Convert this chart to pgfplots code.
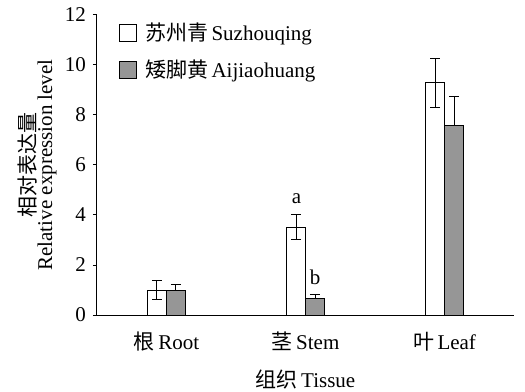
\documentclass[border=0pt]{standalone}
\usepackage{fontspec}
\setmainfont{Liberation Serif}
\newfontfamily\cjk{Noto Sans CJK SC}
\usepackage{pgfplots}
\pgfplotsset{compat=1.18}
\definecolor{bargray}{RGB}{150,150,150}
\begin{document}
\fontsize{21bp}{20bp}\selectfont
\begin{tikzpicture}
\begin{axis}[
  scale only axis,
  width=417bp, height=300bp,
  xmin=-0.5, xmax=2.5,
  ymin=0, ymax=12,
  axis lines*=left,
  axis line style={line width=1bp},
  ytick={0,2,4,6,8,10,12},
  ytick style={line width=1bp, black},
  tick align=outside,
  major tick length=4bp,
  xtick={0,1,2},
  xticklabels={{\cjk 根}\,Root,{\cjk 茎}\,Stem,{\cjk 叶}\,Leaf},
  x tick style={draw=none},
  extra x ticks={0.5,1.5,2.5},
  extra x tick labels={},
  extra x tick style={tick align=inside, major tick length=6bp, tick style={line width=1bp, black, draw=black}},
  xticklabel style={yshift=-6bp},
  /pgf/number format/assume math mode=true,
  ticklabel style={font=\fontsize{21bp}{24bp}\selectfont},
  xlabel={{\cjk 组织}\,Tissue},
  xlabel style={at={(axis description cs:0.5,-0.215)}, anchor=center, font=\fontsize{21bp}{24bp}\selectfont},
  ylabel={{\cjk 相对表达量}\\Relative expression level},
  ylabel style={at={(axis description cs:-0.144,0.5)}, anchor=center, align=center, font=\fontsize{21bp}{17bp}\selectfont},
  ybar,
  bar width=19bp,
  clip=false,
  legend cell align=left,
  legend style={at={(axis description cs:0.05,0.985)}, anchor=north west, draw=none, fill=none,
    row sep=12bp, column sep=6bp, inner sep=1bp, font=\fontsize{21bp}{24bp}\selectfont},
  legend image code/.code={\draw[#1, line width=1bp] (0bp,-8.5bp) rectangle (17bp,8.5bp);},
]
\addplot[bar shift=-9.5bp, fill=white, draw=black, line width=1bp,
  error bars/.cd, y dir=both, y explicit,
  error bar style={line width=1bp, black},
  error mark options={rotate=90, line width=1bp, black, mark size=5bp}]
  coordinates {(0,1.00) +- (0,0.37) (1,3.52) +- (0,0.50) (2,9.28) +- (0,0.99)};
\addlegendentry{{\cjk 苏州青}\,Suzhouqing}
\addplot[bar shift=9.5bp, fill=bargray, draw=black, line width=1bp,
  error bars/.cd, y dir=plus, y explicit,
  error bar style={line width=1bp, black},
  error mark options={rotate=90, line width=1bp, black, mark size=5bp}]
  coordinates {(0,1.00) +- (0,0.24) (1,0.68) +- (0,0.16) (2,7.56) +- (0,1.16)};
\addlegendentry{{\cjk 矮脚黄}\,Aijiaohuang}
\node at (axis cs:1,4.64) [xshift=-9bp] {a};
\node at (axis cs:1,1.52) [xshift=9.5bp] {b};
\coordinate (bbll) at (rel axis cs:0,0);
\coordinate (bbur) at (rel axis cs:1,1);
\end{axis}
\pgfresetboundingbox
\path[use as bounding box] ([shift={(-97bp,-77bp)}]bbll) rectangle ([shift={(11bp,15bp)}]bbur);
\end{tikzpicture}
\end{document}
